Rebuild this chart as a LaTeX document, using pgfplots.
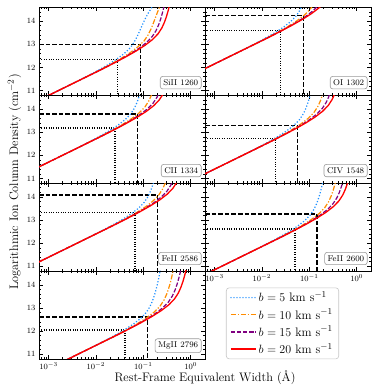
\documentclass[border=0pt]{standalone}
\usepackage{pgfplots}
\pgfplotsset{compat=1.18}
\definecolor{cblue}{RGB}{30,144,255}
\definecolor{corange}{RGB}{255,140,0}
\definecolor{cpurple}{RGB}{128,0,128}
\definecolor{cred}{RGB}{255,0,0}
\tikzset{
  sfive/.style={draw=cblue, color=cblue, line width=1.2pt, dash pattern=on 1.2pt off 1.9pt},
  sten/.style={draw=corange, color=corange, line width=1.2pt, dash pattern=on 5pt off 1.8pt on 1.2pt off 1.8pt},
  sfifteen/.style={draw=cpurple, color=cpurple, line width=1.2pt, dash pattern=on 4.3pt off 1.8pt},
  stwenty/.style={draw=cred, color=cred, line width=1.3pt},
  sdash/.style={draw=black, line width=1.3pt, dash pattern=on 4.6pt off 2pt},
  sdot/.style={draw=black, line width=1.1pt, dash pattern=on 1pt off 1.4pt},
  lbl/.style={anchor=south east, xshift=-3.5pt, yshift=6pt, draw=black!40, rounded corners=2.5pt, fill=white, inner xsep=3pt, inner ysep=3.2pt, font=\fontsize{8.4}{10}\selectfont, line width=0.6pt},
}
\pgfplotsset{
  cog/.style={
    scale only axis, width=166pt, height=87.9pt, anchor=south west,
    xmin=-3.2, xmax=0.3, ymin=10.8, ymax=14.6,
    xtick={-3,-2,-1,0},
    minor xtick={-3.1549,-3.0969,-3.0458,-2.69897,-2.52288,-2.39794,-2.30103,-2.22185,-2.15490,-2.09691,-2.04576,-1.69897,-1.52288,-1.39794,-1.30103,-1.22185,-1.15490,-1.09691,-1.04576,-0.69897,-0.52288,-0.39794,-0.30103,-0.22185,-0.15490,-0.09691,-0.04576},
    ytick={11,12,13,14},
    minor ytick={11.2,11.4,11.6,11.8,12.2,12.4,12.6,12.8,13.2,13.4,13.6,13.8,14.2,14.4},
    tick align=inside, major tick length=4pt, minor tick length=2.2pt,
    every tick/.style={black, line width=0.6pt},
    axis line style={line width=0.7pt},
    ticklabel style={font=\fontsize{8.4}{10}\selectfont},
    xticklabels={}, yticklabels={},
  },
  xlab/.style={xticklabels={$10^{-3}$,$10^{-2}$,$10^{-1}$,$10^{0}$}},
  ylab/.style={yticklabels={$11$,$12$,$13$,$14$}},
}
\begin{document}
\begin{tikzpicture}
\useasboundingbox (0,0) rectangle (390pt,390pt);
% ---------------- SiII 1260
\begin{axis}[cog, ylab, at={(39pt,294.8pt)}]
\addplot[sdash, forget plot] coordinates {(-3.2,13.0) (-1.056,13.0) (-1.056,10.8)};
\addplot[sdot, forget plot] coordinates {(-3.2,12.355) (-1.541,12.355) (-1.541,10.8)};
\addplot[sfive] coordinates {(-4.92881,8.85135) (-2.44396,11.35135) (-2.20559,11.60135) (-1.97586,11.85135) (-1.76059,12.10135) (-1.56850,12.35135) (-1.40200,12.60135) (-1.27434,12.85135) (-1.19077,13.10135) (-1.12754,13.35135) (-1.07236,13.60135) (-1.01833,13.85135) (-0.96110,14.10135) (-0.89680,14.35135) (-0.73820,14.85135)};
\addplot[sten] coordinates {(-4.62778,9.15238) (-2.14293,11.65238) (-1.90456,11.90238) (-1.67483,12.15238) (-1.45956,12.40238) (-1.26747,12.65238) (-1.10868,12.90238) (-0.98209,13.15238) (-0.90036,13.40238) (-0.84069,13.65238) (-0.79112,13.90238) (-0.74539,14.15238) (-0.69927,14.40238) (-0.64933,14.65238)};
\addplot[sfifteen] coordinates {(-4.45169,9.32847) (-1.96684,11.82847) (-1.72847,12.07847) (-1.49874,12.32847) (-1.28347,12.57847) (-1.09138,12.82847) (-0.93259,13.07847) (-0.81508,13.32847) (-0.73544,13.57847) (-0.67988,13.82847) (-0.63697,14.07847) (-0.60161,14.32847) (-0.57141,14.57847) (-0.54502,14.82847)};
\addplot[stwenty] coordinates {(-4.32675,9.45341) (-1.84190,11.95341) (-1.60353,12.20341) (-1.37380,12.45341) (-1.15853,12.70341) (-0.96644,12.95341) (-0.80765,13.20341) (-0.69014,13.45341) (-0.61050,13.70341) (-0.55494,13.95341) (-0.51203,14.20341) (-0.47667,14.45341) (-0.44647,14.70341)};
\node[lbl] at (rel axis cs:1,0) {SiII 1260};
\end{axis}
% ---------------- OI 1302
\begin{axis}[cog, at={(205pt,294.8pt)}]
\addplot[sdash, forget plot] coordinates {(-3.2,14.237) (-1.127,14.237) (-1.127,10.8)};
\addplot[sdot, forget plot] coordinates {(-3.2,13.588) (-1.604,13.588) (-1.604,10.8)};
\addplot[sfive] coordinates {(-4.91467,10.22785) (-2.42982,12.72785) (-2.19145,12.97785) (-1.96172,13.22785) (-1.74645,13.47785) (-1.55436,13.72785) (-1.39557,13.97785) (-1.27806,14.22785) (-1.19842,14.47785) (-1.14286,14.72785)};
\addplot[sten] coordinates {(-4.61364,10.52888) (-2.12879,13.02888) (-1.89042,13.27888) (-1.66069,13.52888) (-1.44542,13.77888) (-1.25333,14.02888) (-1.09454,14.27888) (-0.97703,14.52888) (-0.89739,14.77888)};
\addplot[sfifteen] coordinates {(-4.43755,10.70497) (-1.95270,13.20497) (-1.71433,13.45497) (-1.48460,13.70497) (-1.26933,13.95497) (-1.07724,14.20497) (-0.91845,14.45497) (-0.80094,14.70497)};
\addplot[stwenty] coordinates {(-4.31261,10.82991) (-1.82776,13.32991) (-1.58939,13.57991) (-1.35966,13.82991) (-1.14439,14.07991) (-0.95230,14.32991) (-0.79351,14.57991) (-0.67600,14.82991)};
\node[lbl] at (rel axis cs:1,0) {OI 1302};
\end{axis}
% ---------------- CII 1334
\begin{axis}[cog, ylab, at={(39pt,206.9pt)}]
\addplot[sdash, forget plot] coordinates {(-3.2,13.787) (-1.119,13.787) (-1.119,10.8)};
\addplot[sdot, forget plot] coordinates {(-3.2,13.182) (-1.598,13.182) (-1.598,10.8)};
\addplot[sfive] coordinates {(-4.90400,9.79121) (-2.41915,12.29121) (-2.18078,12.54121) (-1.95105,12.79121) (-1.73578,13.04121) (-1.54369,13.29121) (-1.38490,13.54121) (-1.26739,13.79121) (-1.18775,14.04121) (-1.13219,14.29121) (-1.08928,14.54121) (-1.05392,14.79121)};
\addplot[sten] coordinates {(-4.60297,10.09224) (-2.11812,12.59224) (-1.87975,12.84224) (-1.65002,13.09224) (-1.43475,13.34224) (-1.24266,13.59224) (-1.08387,13.84224) (-0.96636,14.09224) (-0.88672,14.34224) (-0.83116,14.59224) (-0.78825,14.84224)};
\addplot[sfifteen] coordinates {(-4.42688,10.26833) (-1.94203,12.76833) (-1.70366,13.01833) (-1.47393,13.26833) (-1.25866,13.51833) (-1.06657,13.76833) (-0.90778,14.01833) (-0.79027,14.26833) (-0.71063,14.51833) (-0.65507,14.76833)};
\addplot[stwenty] coordinates {(-4.30194,10.39327) (-1.81709,12.89327) (-1.57872,13.14327) (-1.34899,13.39327) (-1.13372,13.64327) (-0.94163,13.89327) (-0.78284,14.14327) (-0.66533,14.39327) (-0.58569,14.64327)};
\node[lbl] at (rel axis cs:1,0) {CII 1334};
\end{axis}
% ---------------- CIV 1548
\begin{axis}[cog, at={(205pt,206.9pt)}]
\addplot[sdash, forget plot] coordinates {(-3.2,13.281) (-1.246,13.281) (-1.246,10.8)};
\addplot[sdot, forget plot] coordinates {(-3.2,12.737) (-1.718,12.737) (-1.718,10.8)};
\addplot[sfive] coordinates {(-4.83950,9.55517) (-2.35465,12.05517) (-2.11628,12.30517) (-1.88655,12.55517) (-1.67128,12.80517) (-1.47919,13.05517) (-1.32040,13.30517) (-1.20289,13.55517) (-1.12325,13.80517) (-1.06769,14.05517) (-1.02478,14.30517) (-0.98942,14.55517) (-0.95922,14.80517)};
\addplot[sten] coordinates {(-4.53847,9.85620) (-2.05362,12.35620) (-1.81525,12.60620) (-1.58552,12.85620) (-1.37025,13.10620) (-1.17816,13.35620) (-1.01937,13.60620) (-0.90186,13.85620) (-0.82222,14.10620) (-0.76666,14.35620) (-0.72375,14.60620) (-0.69,14.8)};
\addplot[sfifteen] coordinates {(-4.36238,10.03229) (-1.87753,12.53229) (-1.63916,12.78229) (-1.40943,13.03229) (-1.19416,13.28229) (-1.00207,13.53229) (-0.84328,13.78229) (-0.72577,14.03229) (-0.64613,14.28229) (-0.59057,14.53229) (-0.54766,14.78229)};
\addplot[stwenty] coordinates {(-4.23744,10.15723) (-1.75259,12.65723) (-1.51422,12.90723) (-1.28449,13.15723) (-1.06922,13.40723) (-0.87713,13.65723) (-0.71834,13.90723) (-0.60083,14.15723) (-0.52119,14.40723) (-0.46563,14.65723)};
\node[lbl] at (rel axis cs:1,0) {CIV 1548};
\end{axis}
% ---------------- FeII 2586
\begin{axis}[cog, ylab, at={(39pt,119.0pt)}]
\addplot[sdash, forget plot] coordinates {(-3.2,14.086) (-0.706,14.086) (-0.706,10.8)};
\addplot[sdot, forget plot] coordinates {(-3.2,13.32) (-1.176,13.32) (-1.176,10.8)};
\addplot[sfive] coordinates {(-4.61658,9.77152) (-2.13173,12.27152) (-1.89336,12.52152) (-1.66363,12.77152) (-1.44836,13.02152) (-1.25627,13.27152) (-1.09748,13.52152) (-0.97997,13.77152) (-0.90033,14.02152) (-0.84477,14.27152) (-0.80186,14.52152) (-0.76650,14.77152)};
\addplot[sten] coordinates {(-4.31555,10.07255) (-1.83070,12.57255) (-1.59233,12.82255) (-1.36260,13.07255) (-1.14733,13.32255) (-0.95524,13.57255) (-0.79645,13.82255) (-0.67894,14.07255) (-0.59930,14.32255) (-0.54374,14.57255) (-0.50083,14.82255)};
\addplot[sfifteen] coordinates {(-4.13946,10.24864) (-1.65461,12.74864) (-1.41624,12.99864) (-1.18651,13.24864) (-0.97124,13.49864) (-0.77915,13.74864) (-0.62036,13.99864) (-0.50285,14.24864) (-0.42321,14.49864) (-0.36765,14.74864)};
\addplot[stwenty] coordinates {(-4.01452,10.37358) (-1.52967,12.87358) (-1.29130,13.12358) (-1.06157,13.37358) (-0.84630,13.62358) (-0.65421,13.87358) (-0.49542,14.12358) (-0.37791,14.37358) (-0.29827,14.62358)};
\node[lbl] at (rel axis cs:1,0) {FeII 2586};
\end{axis}
% ---------------- FeII 2600
\begin{axis}[cog, xlab, at={(205pt,119.0pt)}]
\addplot[sdash, forget plot] coordinates {(-3.2,13.264) (-0.839,13.264) (-0.839,10.8)};
\addplot[sdot, forget plot] coordinates {(-3.2,12.616) (-1.302,12.616) (-1.302,10.8)};
\addplot[sfive] coordinates {(-4.61433,9.23035) (-2.12948,11.73035) (-1.89111,11.98035) (-1.66138,12.23035) (-1.44611,12.48035) (-1.25402,12.73035) (-1.09523,12.98035) (-0.97772,13.23035) (-0.89808,13.48035) (-0.84252,13.73035) (-0.79961,13.98035) (-0.76425,14.23035) (-0.73405,14.48035) (-0.70766,14.73035)};
\addplot[sten] coordinates {(-4.31330,9.53138) (-1.82845,12.03138) (-1.59008,12.28138) (-1.36035,12.53138) (-1.14508,12.78138) (-0.95299,13.03138) (-0.79420,13.28138) (-0.67669,13.53138) (-0.59705,13.78138) (-0.54149,14.03138) (-0.49858,14.28138) (-0.46322,14.53138) (-0.43302,14.78138)};
\addplot[sfifteen] coordinates {(-4.13721,9.70747) (-1.65236,12.20747) (-1.41399,12.45747) (-1.18426,12.70747) (-0.96899,12.95747) (-0.77690,13.20747) (-0.61811,13.45747) (-0.50060,13.70747) (-0.42096,13.95747) (-0.36540,14.20747) (-0.32249,14.45747) (-0.28713,14.70747)};
\addplot[stwenty] coordinates {(-4.01227,9.83241) (-1.52742,12.33241) (-1.28905,12.58241) (-1.05932,12.83241) (-0.84405,13.08241) (-0.65196,13.33241) (-0.49317,13.58241) (-0.37566,13.83241) (-0.29602,14.08241) (-0.24046,14.33241) (-0.19755,14.58241) (-0.16219,14.83241)};
\node[lbl] at (rel axis cs:1,0) {FeII 2600};
\end{axis}
% ---------------- MgII 2796 + legend
\begin{axis}[cog, xlab, ylab, at={(39pt,31.1pt)},
  legend style={at={(1.1265,0.812)}, anchor=north west, draw=black!22, rounded corners=3pt, fill=white,
    font=\fontsize{12.3}{14}\selectfont, inner xsep=4pt, inner ysep=2pt, row sep=1.5pt, line width=0.6pt},
  legend cell align=left,
  legend image code/.code={\draw[#1] (0pt,0pt) -- (25pt,0pt);}]
\addlegendimage{draw=cblue, line width=1.4pt, line cap=round, dash pattern=on 0pt off 3pt}
\addlegendentry{$b = 5$ km s$^{-1}$}
\addlegendimage{draw=corange, line width=1.2pt, dash pattern=on 5pt off 1.8pt on 1.2pt off 1.8pt}
\addlegendentry{$b = 10$ km s$^{-1}$}
\addlegendimage{draw=cpurple, line width=1.2pt, dash pattern=on 4.3pt off 1.8pt}
\addlegendentry{$b = 15$ km s$^{-1}$}
\addlegendimage{draw=cred, line width=1.3pt}
\addlegendentry{$b = 20$ km s$^{-1}$}
\addplot[sdash, forget plot] coordinates {(-3.2,12.614) (-0.908,12.614) (-0.908,10.8)};
\addplot[sdot, forget plot] coordinates {(-3.2,12.05) (-1.387,12.05) (-1.387,10.8)};
\addplot[sfive, forget plot] coordinates {(-4.58274,8.78793) (-2.09789,11.28793) (-1.85952,11.53793) (-1.62979,11.78793) (-1.41452,12.03793) (-1.22243,12.28793) (-1.06364,12.53793) (-0.94613,12.78793) (-0.86649,13.03793) (-0.81093,13.28793) (-0.76802,13.53793) (-0.73266,13.78793) (-0.70246,14.03793) (-0.67607,14.28793) (-0.63142,14.78793)};
\addplot[sten, forget plot] coordinates {(-4.28171,9.08896) (-1.79686,11.58896) (-1.55849,11.83896) (-1.32876,12.08896) (-1.11349,12.33896) (-0.92140,12.58896) (-0.76261,12.83896) (-0.64510,13.08896) (-0.56546,13.33896) (-0.50990,13.58896) (-0.46699,13.83896) (-0.43163,14.08896) (-0.40143,14.33896) (-0.37504,14.58896) (-0.33039,15.08896)};
\addplot[sfifteen, forget plot] coordinates {(-4.10562,9.26505) (-1.62077,11.76505) (-1.38240,12.01505) (-1.15267,12.26505) (-0.93740,12.51505) (-0.74531,12.76505) (-0.58652,13.01505) (-0.46901,13.26505) (-0.38937,13.51505) (-0.33381,13.76505) (-0.29090,14.01505) (-0.25554,14.26505) (-0.22534,14.51505) (-0.19895,14.76505)};
\addplot[stwenty, forget plot] coordinates {(-3.98068,9.38999) (-1.49583,11.88999) (-1.25746,12.13999) (-1.02773,12.38999) (-0.81246,12.63999) (-0.62037,12.88999) (-0.46158,13.13999) (-0.34407,13.38999) (-0.26443,13.63999) (-0.20889,13.88999) (-0.16596,14.13999) (-0.13060,14.38999) (-0.10040,14.63999)};
\node[lbl] at (rel axis cs:1,0) {MgII 2796};
\end{axis}
\node[rotate=90, font=\fontsize{12.3}{14}\selectfont] at (14.5pt,208pt) {Logarithmic Ion Column Density (cm$^{-2}$)};
\node[font=\fontsize{12.3}{14}\selectfont] at (205pt,12.5pt) {Rest-Frame Equivalent Width (Å)};
\end{tikzpicture}
\end{document}
